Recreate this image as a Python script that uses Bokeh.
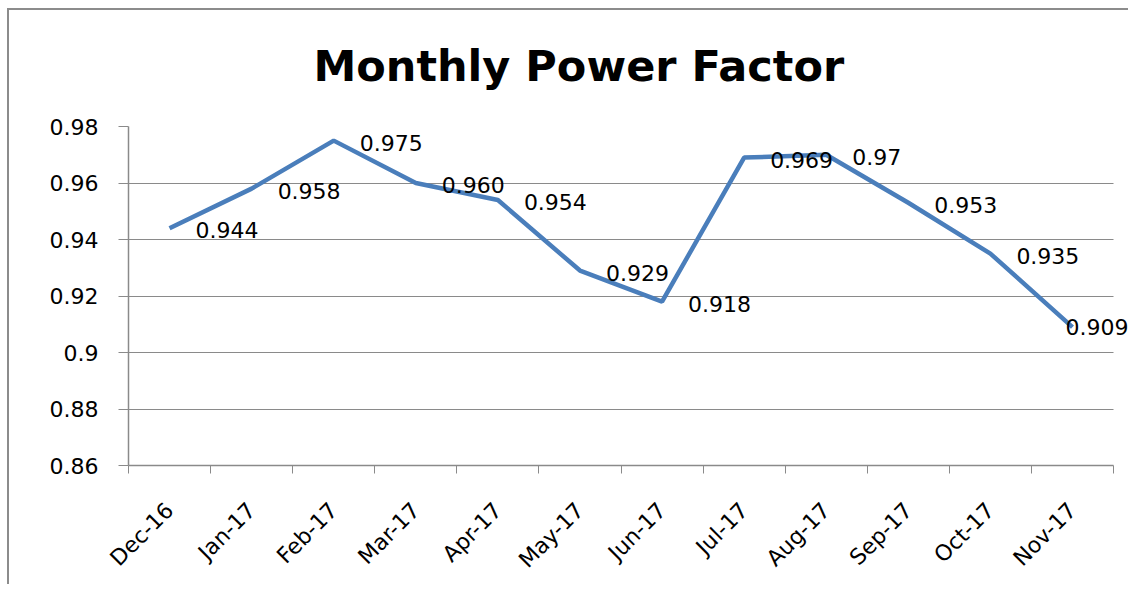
import math
from bokeh.plotting import figure
from bokeh.models import Range1d, FixedTicker, CustomJSTickFormatter, ColumnDataSource, LabelSet
from bokeh.core.properties import value
from bokeh.embed import file_html
from bokeh.resources import INLINE

months = ["Dec-16", "Jan-17", "Feb-17", "Mar-17", "Apr-17", "May-17",
          "Jun-17", "Jul-17", "Aug-17", "Sep-17", "Oct-17", "Nov-17"]
power_factor = [0.944, 0.958, 0.975, 0.960, 0.954, 0.929,
                0.918, 0.969, 0.970, 0.953, 0.935, 0.909]
value_labels = ["0.944", "0.958", "0.975", "0.960", "0.954", "0.929",
                "0.918", "0.969", "0.97", "0.953", "0.935", "0.909"]
y_ticks = [0.86, 0.88, 0.90, 0.92, 0.94, 0.96, 0.98]

# styling (label offsets in screen px)
label_dx = [26] * 11 + [-7]
label_dy = [-2] * 11 + [0]

FONT = "DejaVu Sans"
GRID = "#8a8a8a"
BORDER = "#8c8c8c"

n = len(months)
idx = list(range(n))
src = ColumnDataSource(dict(x=idx, y=power_factor, t=value_labels, dx=label_dx, dy=label_dy))

# plot area spans 985 px for the 12 categories; leave 15 px of open space to the right
PX_PER_CAT = 985 / n
x_end = n - 0.5 + 15 / PX_PER_CAT

p = figure(width=1128, height=584, output_backend="svg", toolbar_location=None,
           x_range=Range1d(-0.5, x_end), y_range=Range1d(0.86, 0.98),
           min_border_left=128, min_border_right=0, min_border_top=126, min_border_bottom=118,
           title="Monthly Power Factor")
p.styles = {
    "background-color": "white",
    "background-image": f"linear-gradient({BORDER}, {BORDER}), linear-gradient({BORDER}, {BORDER})",
    "background-size": "2px 100%, 100% 2px",
    "background-position": "7px 8px, 7px 8px",
    "background-repeat": "no-repeat",
}
p.outline_line_color = None
p.background_fill_color = "white"
p.border_fill_color = None

p.title.text_font = FONT
p.title.text_font_size = "43px"
p.title.text_font_style = "bold"
p.title.text_color = "black"
p.title.align = "left"
p.title.offset = 185
p.title.standoff = 72

p.line("x", "y", source=src, line_color="#4a7ebb", line_width=4.5)
labels = LabelSet(x="x", y="y", text="t", source=src, x_offset="dx", y_offset="dy",
                  text_font=value(FONT), text_font_size=value("22px"), text_color=value("black"),
                  text_baseline="middle", text_align="left")
p.add_layout(labels)

# x axis
xa = p.xaxis[0]
xa.ticker = FixedTicker(ticks=idx, minor_ticks=[i - 0.5 for i in range(n + 1)])
xa.major_label_overrides = {i: m for i, m in enumerate(months)}
xa.bounds = (-0.5, n - 0.5)
xa.major_label_orientation = math.pi / 4
xa.major_tick_in = 0
xa.major_tick_out = 0
xa.minor_tick_in = 0
xa.minor_tick_out = 8
xa.minor_tick_line_color = GRID
xa.axis_line_color = GRID
xa.axis_line_width = 1.5
xa.major_label_text_font = FONT
xa.major_label_text_font_size = "22px"
xa.major_label_text_color = "black"
xa.major_label_standoff = 33

# y axis
ya = p.yaxis[0]
ya.ticker = FixedTicker(ticks=y_ticks)
ya.formatter = CustomJSTickFormatter(code="return String(+tick.toFixed(2));")
ya.major_tick_in = 0
ya.major_tick_out = 10
ya.major_tick_line_color = GRID
ya.minor_tick_line_color = None
ya.axis_line_color = GRID
ya.axis_line_width = 1.5
ya.major_label_text_font = FONT
ya.major_label_text_font_size = "22px"
ya.major_label_text_color = "black"
ya.major_label_standoff = 20

p.xgrid.grid_line_color = None
p.ygrid.grid_line_color = GRID
p.ygrid.grid_line_width = 1.2
p.ygrid.cross_bounds = (-0.5, n - 0.5)

open("out.html", "w").write(file_html(p, INLINE))
